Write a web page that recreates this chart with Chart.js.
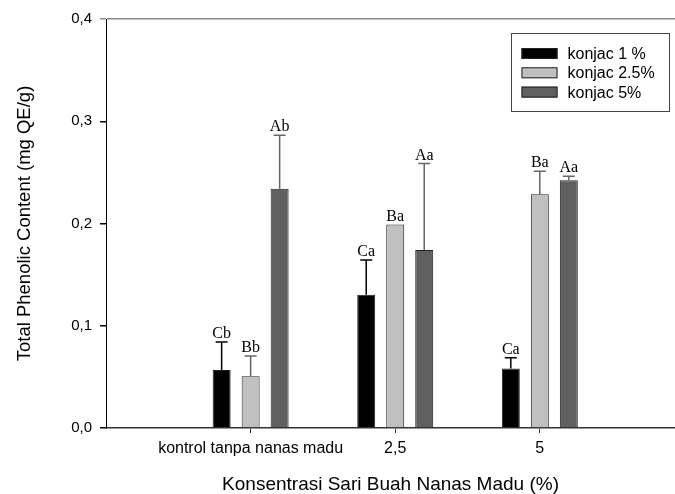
<!DOCTYPE html>
<html>
<head>
<meta charset="utf-8">
<script src="https://cdn.jsdelivr.net/npm/chart.js@4"></script>
<style>
  html, body { margin: 0; padding: 0; background: #fff; }
  #wrap { width: 675px; height: 494px; }
</style>
</head>
<body>
<div id="wrap"><canvas id="chart" width="675" height="494"></canvas></div>
<script>
const categories = ['kontrol tanpa nanas madu', '2,5', '5'];
const seriesNames = ['konjac 1 %', 'konjac 2.5%', 'konjac 5%'];

const konjac1 = [0.0567, 0.1303, 0.0583];
const konjac25 = [0.0505, 0.199, 0.2285];
const konjac5 = [0.234, 0.1742, 0.2422];

const err1 = [0.0274, 0.0341, 0.0104];
const err25 = [0.0199, 0, 0.0226];
const err5 = [0.0524, 0.0844, 0.004];

const letters1 = ['Cb', 'Ca', 'Ca'];
const letters25 = ['Bb', 'Ba', 'Ba'];
const letters5 = ['Ab', 'Aa', 'Aa'];

const yTicks = [0, 0.1, 0.2, 0.3, 0.4];

const colors = ['#000000', '#c0c0c0', '#606060'];
const errColors = ['#000000', '#666666', '#666666'];

const toPoints = vals => vals.map((v, i) => ({ x: i + 1, y: v }));

// error bars + letters above each bar
const errorBars = {
  id: 'errorBars',
  afterDatasetsDraw(chart) {
    const { ctx } = chart;
    const y = chart.scales.y;
    chart.data.datasets.forEach((ds, di) => {
      const meta = chart.getDatasetMeta(di);
      meta.data.forEach((bar, i) => {
        const e = ds.errors[i];
        const top = y.getPixelForValue(ds.data[i].y + e);
        ctx.save();
        if (e > 0) {
          ctx.strokeStyle = errColors[di];
          ctx.lineWidth = 1.5;
          ctx.beginPath();
          ctx.moveTo(bar.x, bar.y);
          ctx.lineTo(bar.x, top);
          ctx.moveTo(bar.x - 6, top);
          ctx.lineTo(bar.x + 6, top);
          ctx.stroke();
        }
        ctx.fillStyle = '#000';
        ctx.font = '16px "Liberation Serif", "Times New Roman", serif';
        ctx.textAlign = 'center';
        ctx.textBaseline = 'alphabetic';
        ctx.fillText(ds.letters[i], bar.x, top - 4);
        ctx.restore();
      });
    });
  }
};

// boxed legend inside the plot
const boxLegend = {
  id: 'boxLegend',
  afterDraw(chart) {
    const { ctx, chartArea } = chart;
    const x0 = chartArea.right - 163.5;
    const y0 = chartArea.top + 14.5;
    ctx.save();
    ctx.fillStyle = '#fff';
    ctx.fillRect(x0, y0, 158, 78);
    ctx.strokeStyle = '#444';
    ctx.lineWidth = 1;
    ctx.strokeRect(x0, y0, 158, 78);
    ctx.font = '16px "Liberation Sans", Arial, sans-serif';
    ctx.textBaseline = 'middle';
    seriesNames.forEach((name, i) => {
      const cy = y0 + 20 + i * 19.3;
      ctx.fillStyle = colors[i];
      ctx.fillRect(x0 + 10, cy - 5.5, 36, 11);
      ctx.strokeStyle = '#222';
      ctx.strokeRect(x0 + 10.5, cy - 5, 35, 10);
      ctx.fillStyle = '#000';
      ctx.fillText(name, x0 + 56, cy + 1);
    });
    ctx.restore();
  }
};

const barStyle = {
  borderColor: '#222',
  borderWidth: 1,
  categoryPercentage: 0.6017,
  barPercentage: 0.62
};

new Chart(document.getElementById('chart'), {
  type: 'bar',
  data: {
    datasets: [
      { label: seriesNames[0], data: toPoints(konjac1), errors: err1, letters: letters1, backgroundColor: colors[0], ...barStyle },
      { label: seriesNames[1], data: toPoints(konjac25), errors: err25, letters: letters25, backgroundColor: colors[1], ...barStyle },
      { label: seriesNames[2], data: toPoints(konjac5), errors: err5, letters: letters5, backgroundColor: colors[2], ...barStyle }
    ]
  },
  options: {
    responsive: false,
    animation: false,
    layout: { padding: { left: 4, right: 0, top: 19, bottom: 0 } },
    plugins: {
      legend: { display: false },
      tooltip: { enabled: false }
    },
    scales: {
      x: {
        type: 'linear',
        min: 0,
        max: 3.935,
        offset: false,
        afterBuildTicks: scale => {
          scale.ticks = categories.map((c, i) => ({ value: i + 1 }));
        },
        ticks: {
          color: '#000',
          padding: 6,
          maxRotation: 0,
          minRotation: 0,
          autoSkip: false,
          font: { family: '"Liberation Sans", Arial, sans-serif', size: 16 },
          callback: value => categories[value - 1] ?? ''
        },
        grid: {
          offset: false,
          drawOnChartArea: false,
          tickLength: 5,
          tickColor: '#333',
          color: 'transparent'
        },
        border: { color: '#333', width: 1.5 },
        title: {
          display: true,
          text: 'Konsentrasi Sari Buah Nanas Madu (%)',
          color: '#000',
          font: { family: '"Liberation Sans", Arial, sans-serif', size: 19 },
          padding: { top: 9, bottom: -2 }
        }
      },
      y: {
        min: 0,
        max: 0.4,
        afterBuildTicks: scale => {
          scale.ticks = yTicks.map(v => ({ value: v }));
        },
        ticks: {
          color: '#000',
          padding: 8,
          font: { family: '"Liberation Sans", Arial, sans-serif', size: 15 },
          callback: value => value.toFixed(1).replace('.', ',')
        },
        grid: {
          tickLength: 6,
          lineWidth: 1.5,
          color: ctx => (ctx.tick && ctx.tick.value === 0.4 ? '#8a8a8a' : 'transparent'),
          tickColor: ctx => (ctx.tick && ctx.tick.value === 0.4 ? '#8a8a8a' : '#000')
        },
        border: { color: '#000', width: 1 },
        title: {
          display: true,
          text: 'Total Phenolic Content (mg QE/g)',
          color: '#000',
          font: { family: '"Liberation Sans", Arial, sans-serif', size: 18.5 },
          padding: { top: 10, bottom: 27 }
        }
      }
    }
  },
  plugins: [errorBars, boxLegend]
});
</script>
</body>
</html>
